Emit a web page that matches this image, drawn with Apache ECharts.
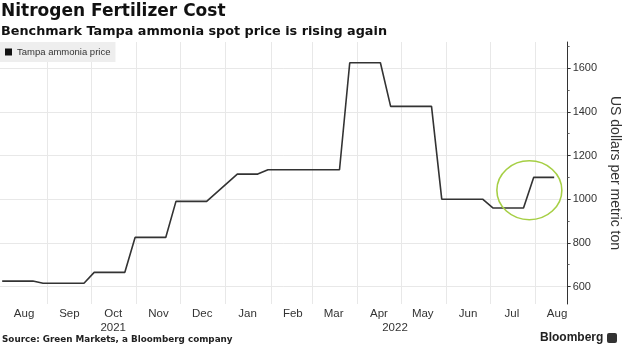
<!DOCTYPE html>
<html>
<head>
<meta charset="utf-8">
<script src="https://cdn.jsdelivr.net/npm/echarts@6/dist/echarts.min.js"></script>
<style>
html,body{margin:0;padding:0;background:#fff;}
#chart{width:630px;height:360px;}
</style>
</head>
<body>
<div id="chart"></div>
<script>
// ---- data ----
const dates = ['2021-08-01','2021-08-22','2021-08-29','2021-09-26','2021-10-03','2021-10-24','2021-10-31',
  '2021-11-21','2021-11-28','2021-12-19','2022-01-09','2022-01-23','2022-01-30','2022-03-20','2022-03-27',
  '2022-04-17','2022-04-24','2022-05-22','2022-05-29','2022-06-26','2022-07-03','2022-07-24','2022-07-31','2022-08-14'];
const prices = [625,625,615,615,665,665,825,825,990,990,1115,1115,1135,1135,1625,1625,1425,1425,1000,1000,960,960,1100,1100];

const monthStarts = ['2021-09-01','2021-10-01','2021-11-01','2021-12-01','2022-01-01','2022-02-01','2022-03-01',
  '2022-04-01','2022-05-01','2022-06-01','2022-07-01','2022-08-01'];
const monthLabelDates = ['2021-08-16','2021-09-16','2021-10-16','2021-11-16','2021-12-16','2022-01-16','2022-02-16',
  '2022-03-16','2022-04-16','2022-05-16','2022-06-16','2022-07-16','2022-08-16'];
const monthLabels = ['Aug','Sep','Oct','Nov','Dec','Jan','Feb','Mar','Apr','May','Jun','Jul','Aug'];
const yearLabelDates = ['2021-10-16','2022-04-27'];
const yearLabels = ['2021','2022'];

const yLabelValues = [600,800,1000,1200,1400,1600];
const yMinorTicks = [700,900,1100,1300,1500,1700];

const highlightDate = '2022-07-28';
const highlightValue = 1041;

// ---- build ----
const ts = s => new Date(s).getTime();
const labelMap = {};
monthLabelDates.forEach((d,i) => { labelMap[ts(d)] = monthLabels[i]; });
yearLabelDates.forEach((d,i) => {
  const k = ts(d);
  labelMap[k] = (labelMap[k] !== undefined ? labelMap[k] : ' ') + '\n' + yearLabels[i];
});
const allLabelValues = Array.from(new Set(monthLabelDates.concat(yearLabelDates).map(ts)));

const FONT = '"Liberation Sans", Arial, sans-serif';
const BFONT = '"DejaVu Sans", Verdana, sans-serif';
const chart = echarts.init(document.getElementById('chart'), null, {renderer:'canvas'});
chart.setOption({
  animation: false,
  backgroundColor: '#ffffff',
  title: [
    {text: 'Nitrogen Fertilizer Cost', left: 1, top: 3, padding: 0,
     textStyle: {fontFamily: BFONT, fontSize: 17, fontWeight: 'bold', color: '#111'}},
    {text: 'Benchmark Tampa ammonia spot price is rising again', left: 1, top: 25, padding: 0,
     textStyle: {fontFamily: BFONT, fontSize: 12.8, fontWeight: 'bold', color: '#111'}},
    {text: 'Source: Green Markets, a Bloomberg company', left: 2, top: 335, padding: 0,
     textStyle: {fontFamily: BFONT, fontSize: 8.8, fontWeight: 'bold', color: '#222'}}
  ],
  legend: {
    left: 0, top: 42, padding: [5,5,5,5],
    backgroundColor: '#eeeeee',
    icon: 'rect', itemWidth: 7, itemHeight: 7,
    textStyle: {fontFamily: FONT, fontSize: 9.5, color: '#333'},
    data: ['Tampa ammonia price']
  },
  grid: {left: 0, right: 59, top: 42, bottom: 56, containLabel: false},
  xAxis: {
    type: 'value',
    min: Date.UTC(2021,6,30,12), max: Date.UTC(2022,7,23,5),
    axisLine: {show: false},
    axisTick: {show: false, customValues: monthStarts.map(ts)},
    splitLine: {show: true, lineStyle: {color: '#e8e8e8', width: 1}},
    axisLabel: {
      customValues: allLabelValues,
      margin: 3,
      fontFamily: FONT, fontSize: 11.5, color: '#333', lineHeight: 14,
      formatter: v => labelMap[v] || ''
    }
  },
  yAxis: [
    {
      type: 'value', position: 'right', min: 520, max: 1720,
      axisLine: {show: true, lineStyle: {color: '#333', width: 1}},
      axisTick: {show: true, length: 3, customValues: yLabelValues, lineStyle: {color: '#333'}},
      axisLabel: {customValues: yLabelValues, margin: 5, fontFamily: FONT, fontSize: 11, color: '#333',
        formatter: v => String(v)},
      splitLine: {show: true, lineStyle: {color: '#e8e8e8', width: 1}},
      name: 'US dollars per metric ton', nameLocation: 'middle', nameRotate: -90, nameGap: 32,
      nameTextStyle: {fontFamily: FONT, fontSize: 14, color: '#333'}
    },
    {
      type: 'value', position: 'right', min: 520, max: 1720,
      axisLine: {show: false},
      axisTick: {show: true, length: 2, customValues: yMinorTicks, lineStyle: {color: '#666'}},
      axisLabel: {show: false},
      splitLine: {show: false}
    }
  ],
  series: [{
    name: 'Tampa ammonia price',
    type: 'line',
    showSymbol: false,
    symbol: 'rect',
    itemStyle: {color: '#111'},
    lineStyle: {color: '#333', width: 1.6},
    data: dates.map((d,i) => [ts(d), prices[i]]),
    markPoint: {
      silent: true,
      symbol: 'circle',
      symbolSize: [65, 59],
      itemStyle: {color: 'rgba(0,0,0,0)', borderColor: '#a6cf45', borderWidth: 1.5},
      label: {show: false},
      data: [{coord: [ts(highlightDate), highlightValue]}]
    }
  }],
  graphic: [
    {type: 'text', left: 540, top: 332,
     style: {text: 'Bloomberg', font: 'bold 12px ' + FONT, fill: '#222'}},
    {type: 'rect', left: 607, top: 333, shape: {width: 10, height: 10, r: 2}, style: {fill: '#333'}}
  ]
});
</script>
</body>
</html>
